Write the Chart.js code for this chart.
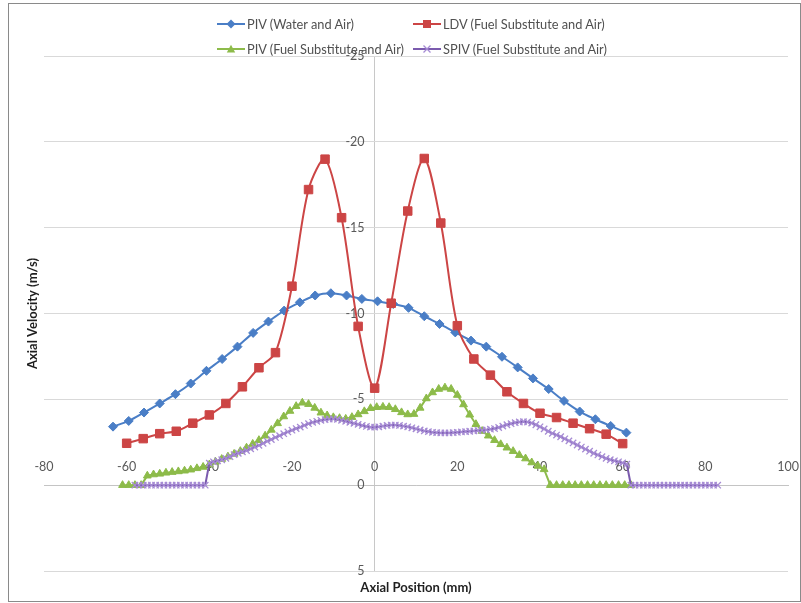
<!DOCTYPE html>
<html>
<head>
<meta charset="utf-8">
<script src="https://cdn.jsdelivr.net/npm/chart.js@4.4.1/dist/chart.umd.min.js"></script>
<style>
  html, body { margin: 0; padding: 0; background: #ffffff; }
  #wrap { position: relative; width: 801px; height: 603px; overflow: hidden; }
  #c { position: absolute; left: 0; top: 0; }
  #frame { position: absolute; left: 8px; top: 3px; width: 793px; height: 599px; box-sizing: border-box; border: 1px solid #8a8a8a; pointer-events: none; }
  .lg { position: absolute; height: 16px; display: flex; align-items: center; white-space: nowrap;
        font-family: Lato, "Liberation Sans", sans-serif; font-size: 12.8px; color: #505050; }
  .lg svg { display: block; margin-right: 2px; }
</style>
</head>
<body>
<div id="wrap">
  <canvas id="c" width="801" height="603"></canvas>
  <div id="frame"></div>
  <div id="legend"></div>
</div>
<script>
// ---------------- data ----------------
const SERIES_NAMES = [
  'PIV (Water and Air)',
  'LDV (Fuel Substitute and Air)',
  'PIV (Fuel Substitute and Air)',
  'SPIV (Fuel Substitute and Air)'
];

// PIV (Water and Air) - axial position (mm) and axial velocity (m/s)
const PIV_WATER_X = [-63.3,-59.5,-55.8,-52.0,-48.2,-44.5,-40.7,-36.9,-33.2,-29.4,-25.7,-21.9,-18.1,-14.4,-10.6,-6.8,-3.1,0.7,
  4.5,8.2,12.0,15.7,19.5,23.3,27.0,30.8,34.6,38.3,42.1,45.8,49.6,53.4,57.1,60.9];
const PIV_WATER_V = [-3.41,-3.74,-4.23,-4.76,-5.30,-5.92,-6.66,-7.35,-8.07,-8.87,-9.53,-10.17,-10.65,-11.05,-11.18,-11.05,-10.85,-10.71,
  -10.55,-10.33,-9.84,-9.39,-8.90,-8.42,-8.07,-7.48,-6.86,-6.22,-5.60,-4.91,-4.29,-3.84,-3.45,-3.06];

// LDV (Fuel Substitute and Air)
const LDV_X = [-60,-56,-52,-48,-44,-40,-36,-32,-28,-24,-20,-16,-12,-8,-4,0,4,8,12,16,20,24,28,32,36,40,44,48,52,56,60];
const LDV_V = [-2.44,-2.71,-3.00,-3.14,-3.61,-4.09,-4.76,-5.73,-6.84,-7.72,-11.59,-17.22,-18.99,-15.58,-9.25,-5.65,
  -10.60,-15.97,-19.03,-15.27,-9.29,-7.35,-6.41,-5.44,-4.76,-4.19,-3.94,-3.61,-3.29,-2.97,-2.42];

// PIV (Fuel Substitute and Air)
const PIV_FUEL_X = [-61,-59.5,-58,-56.5,-55,-53.5,-52,-50.5,-49,-47.5,-46,-44.5,-43,-41.5,-40,-38.5,-37,-35.5,-34,-32.5,
  -31,-29.5,-28,-26.5,-25,-23.5,-22,-20.5,-19,-17.5,-16,-14.5,-13,-11.5,-10,-8.5,-7,-5.5,-4,-2.5,-1,0.5,2,3.5,5,6.5,8,9.5,
  11,12.5,14,15.5,17,18.5,20,21.5,23,24.5,26,27.5,29,30.5,32,33.5,35,36.5,38,39.5,41,42.5,44,45.5,47,48.5,50,51.5,53,
  54.5,56,57.5,59,60.5,62];
const PIV_FUEL_V = [0,0,0,0,-0.55,-0.62,-0.66,-0.72,-0.76,-0.80,-0.84,-0.90,-0.98,-1.06,-1.20,-1.36,-1.52,-1.66,-1.82,-1.98,
  -2.18,-2.40,-2.62,-2.88,-3.22,-3.60,-4.00,-4.32,-4.60,-4.80,-4.72,-4.50,-4.22,-4.06,-3.95,-3.90,-3.86,-3.96,-4.12,-4.30,
  -4.48,-4.54,-4.56,-4.54,-4.42,-4.24,-4.12,-4.14,-4.50,-5.05,-5.40,-5.60,-5.68,-5.60,-5.25,-4.70,-4.10,-3.55,-3.15,-2.88,
  -2.62,-2.38,-2.18,-1.98,-1.75,-1.55,-1.32,-1.12,-0.92,0,0,0,0,0,0,0,0,0,0,0,0,0,0];

// SPIV (Fuel Substitute and Air)
const SPIV_X = [-58,-57,-56,-55,-54,-53,-52,-51,-50,-49,-48,-47,-46,-45,-44,-43,-42,-41,
  -40,-39,-38,-37,-36,-35,-34,-33,-32,-31,-30,-29,-28,-27,-26,-25,-24,-23,-22,-21,
  -20,-19,-18,-17,-16,-15,-14,-13,-12,-11,-10,-9,-8,-7,-6,-5,-4,-3,-2,-1,
  0,1,2,3,4,5,6,7,8,9,10,11,12,13,14,15,16,17,18,19,20,21,22,23,24,25,26,27,28,29,
  30,31,32,33,34,35,36,37,38,39,40,41,42,43,44,45,46,47,48,49,50,51,52,53,54,55,56,57,58,59,60,61,
  62,63,64,65,66,67,68,69,70,71,72,73,74,75,76,77,78,79,80,81,82,83];
const SPIV_V = [0,0,0,0,0,0,0,0,0,0,0,0,0,0,0,0,0,0,
  -1.28,-1.36,-1.42,-1.48,-1.56,-1.66,-1.78,-1.86,-1.94,-2.02,
  -2.12,-2.22,-2.32,-2.44,-2.56,-2.66,-2.78,-2.88,-3.00,-3.10,
  -3.20,-3.30,-3.38,-3.48,-3.58,-3.66,-3.72,-3.78,-3.82,-3.85,
  -3.86,-3.84,-3.78,-3.72,-3.66,-3.60,-3.54,-3.48,-3.42,-3.38,
  -3.38,-3.40,-3.44,-3.48,-3.50,-3.50,-3.48,-3.44,-3.40,-3.34,
  -3.28,-3.22,-3.16,-3.12,-3.08,-3.06,-3.04,-3.04,-3.04,-3.06,
  -3.08,-3.10,-3.12,-3.14,-3.16,-3.18,-3.20,-3.22,-3.26,-3.30,
  -3.36,-3.44,-3.52,-3.58,-3.64,-3.68,-3.70,-3.68,-3.62,-3.52,
  -3.40,-3.28,-3.14,-3.02,-2.92,-2.82,-2.70,-2.58,-2.46,-2.34,
  -2.22,-2.10,-1.98,-1.86,-1.76,-1.66,-1.56,-1.48,-1.42,-1.36,
  -1.30,-1.22,
  0,0,0,0,0,0,0,0,0,0,0,0,0,0,0,0,0,0,0,0,0,0];

const X_TICKS = [-80, -60, -40, -20, 0, 20, 40, 60, 80, 100];
const Y_TICKS = [-25, -20, -15, -10, -5, 0, 5];
const X_TITLE = 'Axial Position (mm)';
const Y_TITLE = 'Axial Velocity (m/s)';

// ---------------- chart ----------------
const pts = (xs, vs) => xs.map((x, i) => ({ x: x, y: vs[i] }));
const FONT = 'Lato, "Liberation Sans", sans-serif';

const datasets = [
  { label: SERIES_NAMES[0], data: pts(PIV_WATER_X, PIV_WATER_V), borderColor: '#4A7EC6', backgroundColor: '#4A7EC6',
    pointStyle: 'rectRot', pointRadius: 4.5, pointBackgroundColor: '#4A7EC6', pointBorderColor: '#4A7EC6', pointBorderWidth: 1,
    borderWidth: 2, tension: 0.3, order: 4 },
  { label: SERIES_NAMES[1], data: pts(LDV_X, LDV_V), borderColor: '#CC4545', backgroundColor: '#CC4545',
    pointStyle: 'rect', pointRadius: 6, pointBackgroundColor: '#CC4545', pointBorderColor: '#CC4545', pointBorderWidth: 1,
    borderWidth: 2, tension: 0.3, order: 3 },
  { label: SERIES_NAMES[2], data: pts(PIV_FUEL_X, PIV_FUEL_V), borderColor: '#8DBB4A', backgroundColor: '#8DBB4A',
    pointStyle: 'triangle', pointRadius: 4.5, pointBackgroundColor: '#8DBB4A', pointBorderColor: '#8DBB4A', pointBorderWidth: 1,
    borderWidth: 2, tension: 0, order: 2 },
  { label: SERIES_NAMES[3], data: pts(SPIV_X, SPIV_V), borderColor: '#7B5BAE', backgroundColor: '#7B5BAE',
    pointStyle: 'crossRot', pointRadius: 4.5, pointBackgroundColor: '#A68BD4', pointBorderColor: '#A68BD4', pointBorderWidth: 1.3,
    borderWidth: 2, tension: 0, order: 1 }
];

const tickFont = { family: FONT, size: 12.5, lineHeight: 1.2 };
const titleFont = { family: FONT, size: 13, weight: 'bold', lineHeight: 1.2 };

const chart = new Chart(document.getElementById('c'), {
  type: 'scatter',
  data: { datasets: datasets },
  options: {
    responsive: false,
    animation: false,
    events: [],
    layout: { padding: { left: 22.4, right: 13, top: 56, bottom: 0 } },
    elements: { line: { fill: false } },
    datasets: { scatter: { showLine: true } },
    plugins: {
      legend: { display: false },
      tooltip: { enabled: false },
      title: {
        display: true, text: Y_TITLE, position: 'left', fullSize: false, color: '#1f1f1f',
        font: titleFont, padding: { top: 3, bottom: 3 }
      },
      subtitle: {
        display: true, text: X_TITLE, position: 'bottom', fullSize: false, color: '#1f1f1f',
        font: titleFont, padding: { top: 8.6, bottom: 7.8 }
      }
    },
    scales: {
      x: {
        type: 'linear', position: { y: 0 }, min: -80, max: 100,
        afterBuildTicks: (s) => { s.ticks = X_TICKS.map(v => ({ value: v })); },
        grid: {
          display: true, drawOnChartArea: true, drawTicks: false, lineWidth: 1,
          color: (c) => (c.tick && c.tick.value === 0) ? '#c8c8c8' : 'rgba(0,0,0,0)'
        },
        border: { display: true, color: '#c4c4c4', width: 1 },
        ticks: { padding: -25.5, color: '#595959', font: tickFont, maxRotation: 0, autoSkip: false }
      },
      y: {
        type: 'linear', position: { x: -2.45 }, reverse: true, min: -25, max: 5,
        afterBuildTicks: (s) => { s.ticks = Y_TICKS.map(v => ({ value: v })); },
        grid: { color: '#d9d9d9', lineWidth: 1, drawTicks: false },
        border: { display: false },
        ticks: { padding: 0, color: '#595959', font: tickFont, autoSkip: false }
      }
    }
  }
});

// ---------------- HTML legend (generated from the chart's datasets) ----------------
function markerSvg(style, color, lineColor) {
  let m = '';
  if (style === 'rectRot') m = `<polygon points="14,1.5 18.5,6 14,10.5 9.5,6" fill="${color}"/>`;
  else if (style === 'rect') m = `<rect x="10" y="2" width="8" height="8" fill="${color}"/>`;
  else if (style === 'triangle') m = `<polygon points="14,1.8 18.2,9.5 9.8,9.5" fill="${color}"/>`;
  else if (style === 'crossRot') m = `<path d="M10.5,2.5 L17.5,9.5 M17.5,2.5 L10.5,9.5" stroke="${color}" stroke-width="1.3"/>`;
  return `<svg width="28" height="12" viewBox="0 0 28 12"><line x1="0" y1="6" x2="28" y2="6" stroke="${lineColor}" stroke-width="2"/>${m}</svg>`;
}
const LEG_COL_X = [217, 413];
const LEG_ROW_Y = [24, 49];
const legendEl = document.getElementById('legend');
chart.data.datasets.forEach((ds, i) => {
  const d = document.createElement('div');
  d.className = 'lg';
  d.style.left = LEG_COL_X[i % 2] + 'px';
  d.style.top = (LEG_ROW_Y[Math.floor(i / 2)] - 8) + 'px';
  d.innerHTML = markerSvg(ds.pointStyle, ds.pointBorderColor, ds.borderColor) + '<span></span>';
  d.querySelector('span').textContent = ds.label;
  legendEl.appendChild(d);
});
</script>
</body>
</html>
